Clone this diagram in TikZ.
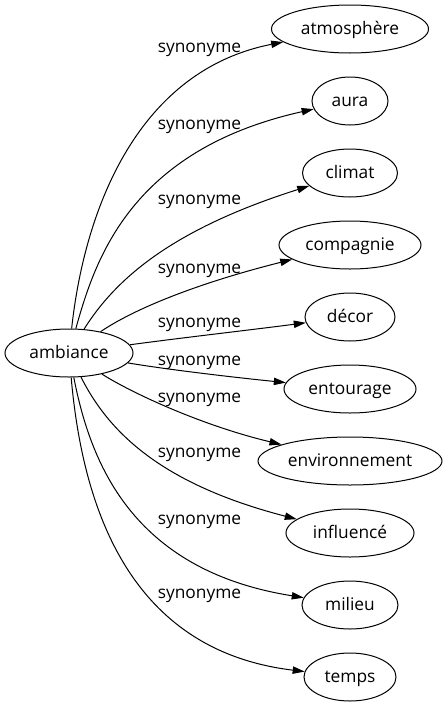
\documentclass[tikz,border=0pt]{standalone}
\usepackage{fontspec}
\setmainfont{Open Sans}
\usetikzlibrary{arrows.meta,shapes.geometric}
\begin{document}
\begin{tikzpicture}[x=0.75pt,y=-0.75pt,
  word/.style={draw, ellipse, line width=0.75pt, inner sep=0pt, minimum height=36pt,
    text height=10pt, text depth=2pt, font=\fontsize{13}{15}\selectfont},
  rel/.style={font=\fontsize{13}{15}\selectfont, anchor=base, inner sep=0pt},
  link/.style={line width=0.75pt, -{Triangle[length=9pt,width=5.5pt]}}]
\useasboundingbox (0,0) rectangle (447,707);
\node[word, minimum width=96pt] (amb) at (69,353) {ambiance};
\node[word, minimum width=117.75pt] (atm) at (350,29) {atmosphère};
\node[word, minimum width=57pt] (aura) at (350,101) {aura};
\node[word, minimum width=71.25pt] (cli) at (350,173) {climat};
\node[word, minimum width=106.5pt] (com) at (350,245) {compagnie};
\node[word, minimum width=67.5pt] (dec) at (350,317) {décor};
\node[word, minimum width=99pt] (ent) at (350,389) {entourage};
\node[word, minimum width=138pt] (env) at (350,461) {environnement};
\node[word, minimum width=96pt] (inf) at (350,533) {influencé};
\node[word, minimum width=72pt] (mil) at (350,605) {milieu};
\node[word, minimum width=69pt] (tem) at (350,677) {temps};
\draw[link] (amb) .. controls (85,205) and (140,70) .. (atm);
\draw[link] (amb) .. controls (95,260) and (130,150) .. (aura);
\draw[link] (amb) .. controls (115,280) and (170,230) .. (cli);
\draw[link] (amb) .. controls (140,305) and (210,280) .. (com);
\draw[link] (amb) .. controls (180,338) and (250,330) .. (dec);
\draw[link] (amb) .. controls (170,370) and (240,378) .. (ent);
\draw[link] (amb) .. controls (130,392) and (200,425) .. (env);
\draw[link] (amb) .. controls (110,435) and (165,485) .. (inf);
\draw[link] (amb) .. controls (90,460) and (130,570) .. (mil);
\draw[link] (amb) .. controls (82,500) and (125,650) .. (tem);
\node[rel] (l1) at (199.5,52.5) {synonyme};
\node[rel] (l2) at (199.5,129.5) {synonyme};
\node[rel] (l3) at (199.5,204.5) {synonyme};
\node[rel] (l4) at (199.5,273) {synonyme};
\node[rel] (l5) at (199.5,327) {synonyme};
\node[rel] (l6) at (199.5,365) {synonyme};
\node[rel] (l7) at (199.5,402.5) {synonyme};
\node[rel] (l8) at (199.5,457) {synonyme};
\node[rel] (l9) at (199.5,524) {synonyme};
\node[rel] (l10) at (199.5,598.5) {synonyme};
\end{tikzpicture}
\end{document}
